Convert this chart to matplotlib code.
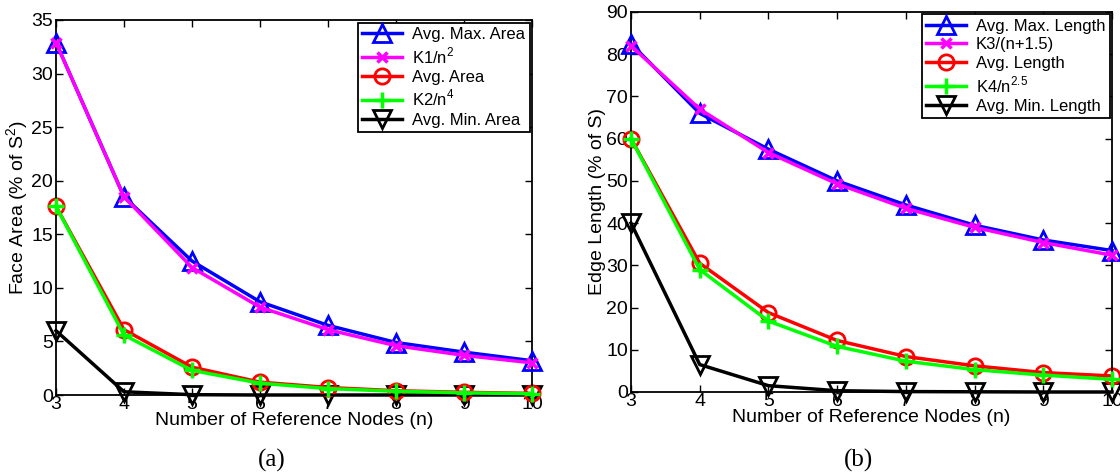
import numpy as np
import matplotlib
matplotlib.use("Agg")
import matplotlib.pyplot as plt

plt.rcParams['font.family'] = ['Liberation Sans', 'DejaVu Sans']
plt.rcParams['mathtext.fontset'] = 'custom'
plt.rcParams['mathtext.rm'] = 'Liberation Sans'

n = [3, 4, 5, 6, 7, 8, 9, 10]

# (a) face area, % of S^2
max_area = [32.9, 18.5, 12.5, 8.7, 6.5, 4.9, 4.0, 3.2]
k1_fit = [32.9, 18.5, 11.9, 8.2, 6.1, 4.6, 3.7, 3.0]
avg_area = [17.6, 6.1, 2.6, 1.2, 0.7, 0.4, 0.25, 0.15]
k2_fit = [17.6, 5.6, 2.3, 1.1, 0.6, 0.35, 0.2, 0.12]
min_area = [6.0, 0.3, 0.03, 0.0, 0.0, 0.0, 0.0, 0.0]

# (b) edge length, % of S
max_len = [82.5, 66.0, 57.5, 50.0, 44.3, 39.5, 36.0, 33.5]
k3_fit = [82.0, 67.0, 56.7, 49.3, 43.5, 39.0, 35.4, 32.4]
avg_len = [60.0, 30.5, 18.8, 12.2, 8.4, 6.2, 4.6, 3.8]
k4_fit = [60.0, 29.0, 16.8, 10.8, 7.3, 5.3, 4.0, 3.0]
min_len = [40.0, 6.5, 1.5, 0.3, 0.1, 0.05, 0.0, 0.0]

labels_a = ['Avg. Max. Area', 'K1/n$^2$', 'Avg. Area', 'K2/n$^4$', 'Avg. Min. Area']
labels_b = ['Avg. Max. Length', 'K3/(n+1.5)', 'Avg. Length', 'K4/n$^{2.5}$', 'Avg. Min. Length']

fig = plt.figure(figsize=(11.2, 4.75), dpi=100)
W, H = 1120.0, 475.0
ax1 = fig.add_axes([56 / W, 1 - 395 / H, (532 - 56) / W, (395 - 20) / H])
ax2 = fig.add_axes([631 / W, 1 - 392 / H, (1112 - 631) / W, (392 - 12) / H])


def draw(ax, series, labels, ymax, yticks, ylabel):
    styles = [
        dict(color='blue', marker='^', mfc='none', ms=13, zorder=4),
        dict(color='magenta', marker='x', ms=7, mew=2.5, zorder=5),
        dict(color='red', marker='o', mfc='none', ms=11, zorder=2),
        dict(color='lime', marker='+', ms=11, mew=2.5, zorder=3),
        dict(color='black', marker='v', mfc='none', ms=13, zorder=1),
    ]
    for ys, lab, st in zip(series, labels, styles):
        ax.plot(n, ys, lw=2.5, mew=st.pop('mew', 2), label=lab, clip_on=False, **st)
    ax.set_xlim(3, 10)
    ax.set_ylim(0, ymax)
    ax.set_xticks(n)
    ax.set_yticks(yticks)
    ax.tick_params(direction='in', top=True, right=True, labelsize=14,
                   length=5, width=1, pad=2)
    ax.tick_params(axis='x', pad=1)
    for s in ax.spines.values():
        s.set_linewidth(1.3)
    ax.set_xlabel('Number of Reference Nodes (n)', fontsize=14, labelpad=-1)
    ax.set_ylabel(ylabel, fontsize=14, labelpad=0)
    leg = ax.legend(loc='upper right', fontsize=12, frameon=True, fancybox=False,
                    edgecolor='black', framealpha=1, borderaxespad=0.15,
                    handlelength=2.4, handletextpad=0.6, labelspacing=0.22,
                    borderpad=0.25)
    leg.get_frame().set_linewidth(1.3)


draw(ax1, [max_area, k1_fit, avg_area, k2_fit, min_area], labels_a, 35,
     np.arange(0, 36, 5), 'Face Area (% of S$^2$)')
draw(ax2, [max_len, k3_fit, avg_len, k4_fit, min_len], labels_b, 90,
     np.arange(0, 91, 10), 'Edge Length (% of S)')

fig.text(272 / W, 1 - 460 / H, '(a)', family='Liberation Serif', fontsize=18,
         ha='center', va='center')
fig.text(858 / W, 1 - 460 / H, '(b)', family='Liberation Serif', fontsize=18,
         ha='center', va='center')

fig.savefig('out.png', dpi=100)
